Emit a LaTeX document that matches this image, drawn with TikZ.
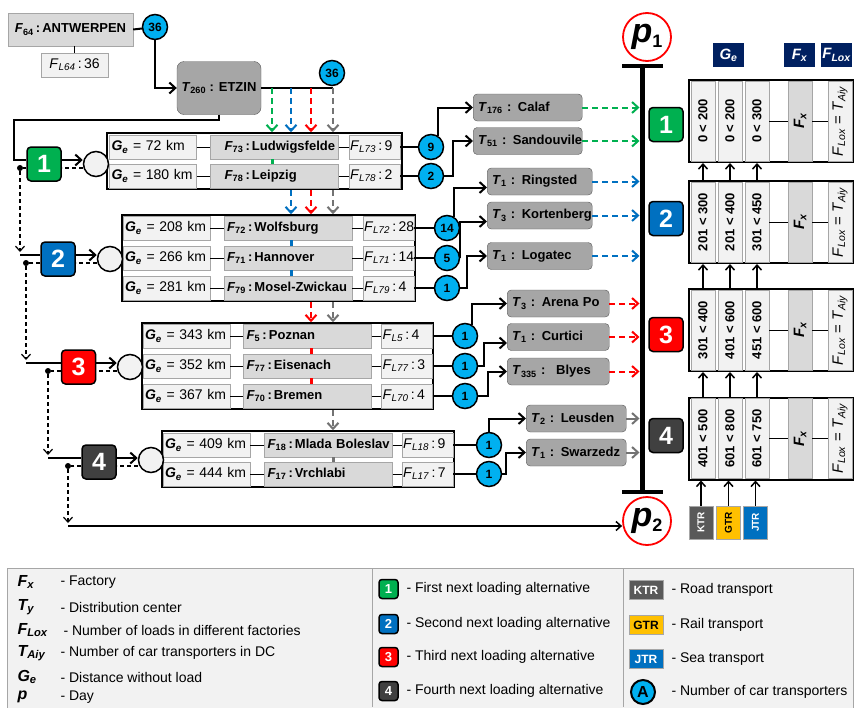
\documentclass[tikz,border=0pt]{standalone}
\usepackage{fontspec}
\setmainfont{Liberation Sans}
\usetikzlibrary{arrows.meta}
\definecolor{cellfill}{HTML}{F2F2F2}
\definecolor{namefill}{HTML}{D9D9D9}
\definecolor{cellline}{HTML}{A6A6A6}
\definecolor{dcfill}{HTML}{A6A6A6}
\definecolor{dcline}{HTML}{595959}
\definecolor{loadblue}{HTML}{00B0F0}
\definecolor{altgreen}{HTML}{00B050}
\definecolor{altblue}{HTML}{0070C0}
\definecolor{altred}{HTML}{FF0000}
\definecolor{altgray}{HTML}{404040}
\definecolor{dropgray}{HTML}{737373}
\definecolor{hdrnavy}{HTML}{002060}
\definecolor{roadgray}{HTML}{595959}
\definecolor{railyellow}{HTML}{FFC000}
\newcommand{\gedist}[1]{\mbox{\textbf{\textit{G}\textsubscript{\textit{e}}} = #1 km}}
\newcommand{\fname}[2]{\mbox{\textit{F}\textsubscript{#1}\,:\,#2}}
\newcommand{\fload}[2]{\mbox{\textit{F}\textsubscript{\textit{L#1}}\,:\,#2}}
\newcommand{\tname}[2]{\mbox{\textit{T}\textsubscript{#1} : #2}}
\begin{document}
\begin{tikzpicture}[x=1pt,y=-1pt,
  every node/.style={font=\fontsize{14}{16}\selectfont},
  gecell/.style={draw=cellline,fill=cellfill,text width=83pt,inner xsep=2pt,minimum height=24pt,align=left},
  namecell/.style={draw=cellline,fill=namefill,text width=122pt,inner xsep=3pt,minimum height=24pt,align=left,font=\fontsize{13}{15}\selectfont\bfseries},
  loadcell/.style={draw=cellline,fill=cellfill,text width=49pt,inner xsep=1pt,minimum height=24pt,align=left},
  grpbox/.style={draw,line width=1.5pt,inner sep=0pt},
  loadnum/.style={circle,draw,line width=1.5pt,fill=loadblue,minimum size=25pt,inner sep=0pt,font=\fontsize{12}{14}\selectfont\bfseries},
  hub/.style={circle,draw,line width=1.5pt,fill=cellfill,minimum size=25pt,inner sep=0pt},
  altsq/.style={draw,line width=1.5pt,rounded corners=4pt,minimum size=34pt,inner sep=0pt,text=white,font=\fontsize{25}{28}\selectfont\bfseries},
  dc/.style={draw=dcline,fill=dcfill,rounded corners=4pt,minimum height=27pt,font=\fontsize{13}{15}\selectfont\bfseries},
  dcbox/.style={dc,text width=#1,inner xsep=5pt,align=left},
  flowline/.style={line width=2pt},
  barb/.style={-{Straight Barb[length=6pt,width=11pt]}},
  thinbarb/.style={-{Straight Barb[length=5pt,width=9pt]}},
  dropline/.style={line width=2pt,dash pattern=on 6pt off 4pt,-{Straight Barb[length=6pt,width=11pt]}},
  retline/.style={line width=1.2pt,dash pattern=on 4pt off 3pt},
  joint/.style={circle,fill,minimum size=6pt,inner sep=0pt},
  pday/.style={circle,draw=altred,line width=1.8pt,fill=white,minimum size=48pt,inner sep=0pt},
  rbox/.style={draw,line width=2pt,minimum width=164pt,minimum height=82pt,inner sep=0pt},
  rcell/.style={draw=cellline,fill=cellfill,rotate=90,minimum width=80pt,minimum height=24pt,inner sep=0pt,font=\fontsize{13}{15}\selectfont\bfseries},
  fxcell/.style={rcell,fill=namefill,font=\fontsize{15}{17}\selectfont\bfseries\itshape},
  tacell/.style={rcell,font=\fontsize{15}{17}\selectfont},
  hdr/.style={fill=hdrnavy,text=white,minimum width=31pt,minimum height=24pt,inner sep=0pt,font=\fontsize{15}{17}\selectfont\bfseries\itshape},
  modebox/.style={draw=cellline,rotate=90,minimum width=33pt,minimum height=24pt,inner sep=0pt,font=\fontsize{10}{12}\selectfont\bfseries},
  legalt/.style={altsq,minimum size=19pt,rounded corners=3pt,font=\fontsize{13}{15}\selectfont\bfseries},
  legmode/.style={draw=cellline,minimum width=34pt,minimum height=19pt,inner sep=0pt,font=\fontsize{12}{14}\selectfont\bfseries},
  legsym/.style={anchor=west,font=\fontsize{16}{18}\selectfont\bfseries\itshape},
  legtext/.style={anchor=west}]
\useasboundingbox (0,0) rectangle (856,707);

\node[draw=cellline,fill=namefill,minimum width=125pt,minimum height=33pt,font=\fontsize{13}{15}\selectfont\bfseries] (f64) at (70.5,29.5) {\fname{64}{ANTWERPEN}};
\node[draw=cellline,fill=cellfill,minimum width=67pt,minimum height=24pt] (fl64) at (74.5,65) {\fload{64}{36}};
\draw (fl64.north) -- (fl64.north |- f64.south);
\node[loadnum] (n64) at (155,27) {36};
\node[dc,minimum width=84pt,minimum height=53pt,rounded corners=7pt] (etzin) at (219,88) {\tname{260}{ETZIN}};
\node[loadnum] (n260) at (332,73) {36};
\coordinate (xg) at (272,88);
\coordinate (xb) at (291,88);
\coordinate (xr) at (311,88);
\coordinate (xk) at (333,88);
\coordinate (bend) at (14,120);
\draw[flowline] (f64.east) -- (n64);
\draw[flowline,barb] (n64.south) |- (etzin.west);
\draw[flowline] (etzin.east) -- (xk);

\node[grpbox,minimum width=295pt,minimum height=56pt] (g1) at (254.5,161) {};
\node[gecell] (ge73) at (153,147) {\gedist{72}};
\node[namecell,text width=100pt,inner xsep=14pt] (f73) at (274.5,147) {\fname{73}{Ludwigsfelde}};
\node[loadcell] (fl73) at (374.5,147) {\fload{73}{9}};
\node[gecell] (ge78) at (153,176) {\gedist{180}};
\node[namecell,text width=100pt,inner xsep=14pt] (f78) at (274.5,176) {\fname{78}{Leipzig}};
\node[loadcell] (fl78) at (374.5,176) {\fload{78}{2}};

\node[grpbox,minimum width=293pt,minimum height=86pt] (g2) at (268.5,258) {};
\node[gecell] (ge72) at (166.5,228) {\gedist{208}};
\node[namecell] (f72) at (288,228) {\fname{72}{Wolfsburg}};
\node[loadcell] (fl72) at (388.5,228) {\fload{72}{28}};
\node[gecell] (ge71) at (166.5,258) {\gedist{266}};
\node[namecell] (f71) at (288,258) {\fname{71}{Hannover}};
\node[loadcell] (fl71) at (388.5,258) {\fload{71}{14}};
\node[gecell] (ge79) at (166.5,288) {\gedist{281}};
\node[namecell] (f79) at (288,288) {\fname{79}{Mosel-Zwickau}};
\node[loadcell] (fl79) at (388.5,288) {\fload{79}{4}};

\node[grpbox,minimum width=291pt,minimum height=86pt] (g3) at (287.5,366) {};
\node[gecell] (ge5) at (186.5,336) {\gedist{343}};
\node[namecell] (f5) at (307.5,336) {\fname{5}{Poznan}};
\node[loadcell] (fl5) at (407,336) {\fload{5}{4}};
\node[gecell] (ge77) at (186.5,366) {\gedist{352}};
\node[namecell] (f77) at (307.5,366) {\fname{77}{Eisenach}};
\node[loadcell] (fl77) at (407,366) {\fload{77}{3}};
\node[gecell] (ge70) at (186.5,396) {\gedist{367}};
\node[namecell] (f70) at (307.5,396) {\fname{70}{Bremen}};
\node[loadcell] (fl70) at (407,396) {\fload{70}{4}};

\node[grpbox,minimum width=292pt,minimum height=56pt] (g4) at (308,459) {};
\node[gecell] (ge18) at (206.5,445) {\gedist{409}};
\node[namecell] (f18) at (328.5,445) {\fname{18}{Mlada Boleslav}};
\node[loadcell] (fl18) at (427.5,445) {\fload{18}{9}};
\node[gecell] (ge17) at (206.5,474) {\gedist{444}};
\node[namecell] (f17) at (328.5,474) {\fname{17}{Vrchlabi}};
\node[loadcell] (fl17) at (427.5,474) {\fload{17}{7}};

\draw (ge73) -- (f73) (f73) -- (fl73) (ge78) -- (f78) (f78) -- (fl78);
\draw (ge72) -- (f72) (f72) -- (fl72) (ge71) -- (f71) (f71) -- (fl71) (ge79) -- (f79) (f79) -- (fl79);
\draw (ge5) -- (f5) (f5) -- (fl5) (ge77) -- (f77) (f77) -- (fl77) (ge70) -- (f70) (f70) -- (fl70);
\draw (ge18) -- (f18) (f18) -- (fl18) (ge17) -- (f17) (f17) -- (fl17);

\draw[dropline,altgreen] (xg) -- (xg |- g1.north);
\draw[dropline,altblue] (xb) -- (xb |- g1.north);
\draw[dropline,altred] (xr) -- (xr |- g1.north);
\draw[dropline,dropgray] (xk) -- (xk |- g1.north);
\draw[dropline,altblue] (xb |- g1.south) -- (xb |- g2.north);
\draw[dropline,altred] (xr |- g1.south) -- (xr |- g2.north);
\draw[dropline,dropgray] (xk |- g1.south) -- (xk |- g2.north);
\draw[dropline,altred] (xr |- g2.south) -- (xr |- g3.north);
\draw[dropline,dropgray] (xk |- g2.south) -- (xk |- g3.north);
\draw[dropline,dropgray] (xk |- g3.south) -- (xk |- g4.north);
\draw[line width=3pt,altgreen] (f73.south -| xg) -- (f78.north -| xg);
\draw[line width=3pt,altblue] (f72.south -| xb) -- (f71.north -| xb) (f71.south -| xb) -- (f79.north -| xb);
\draw[line width=3pt,altred] (f5.south -| xr) -- (f77.north -| xr) (f77.south -| xr) -- (f70.north -| xr);
\draw[line width=3pt,dropgray] (f18.south -| xk) -- (f17.north -| xk);

\node[altsq,fill=altgreen] (sq1) at (44,164) {1};
\node[altsq,fill=altblue] (sq2) at (58,259) {2};
\node[altsq,fill=altred] (sq3) at (78.5,367) {3};
\node[altsq,fill=altgray] (sq4) at (99,462) {4};
\node[hub] (hub1) at (96,164) {};
\node[hub] (hub2) at (110,259) {};
\node[hub] (hub3) at (130,367) {};
\node[hub] (hub4) at (151,460) {};
\node[joint] (d1) at (20,168) {};
\node[joint] (d2) at (26,263) {};
\node[joint] (d3) at (48,371) {};
\node[joint] (d4) at (68,466) {};
\coordinate (a2) at (20,255);
\coordinate (a3) at (26,363);
\coordinate (a4) at (48,458);
\coordinate (a5) at (68,526);

\draw[line width=1.5pt] (etzin.south) |- (bend) |- ([yshift=4pt]sq1.west);
\draw[flowline] (a2) -- ([yshift=4pt]sq2.west);
\draw[flowline] (a3) -- ([yshift=4pt]sq3.west);
\draw[flowline] (a4) -- ([yshift=4pt]sq4.west);
\draw[flowline,barb] ([yshift=4pt]sq1.east) -- ([yshift=4pt]sq1.east -| hub1.west);
\draw[flowline,barb] ([yshift=4pt]sq2.east) -- ([yshift=4pt]sq2.east -| hub2.west);
\draw[flowline,barb] ([yshift=4pt]sq3.east) -- ([yshift=4pt]sq3.east -| hub3.west);
\draw[flowline,barb] ([yshift=4pt]sq4.east) -- ([yshift=4pt]sq4.east -| hub4.west);
\draw[retline] (hub1.west |- d1) -- (sq1.east |- d1) (sq1.west |- d1) -- (d1);
\draw[retline] (hub2.west |- d2) -- (sq2.east |- d2) (sq2.west |- d2) -- (d2);
\draw[retline] (hub3.west |- d3) -- (sq3.east |- d3) (sq3.west |- d3) -- (d3);
\draw[retline] (hub4.west |- d4) -- (sq4.east |- d4) (sq4.west |- d4) -- (d4);
\draw[retline,thinbarb] (d1) -- ([yshift=3pt]a2);
\draw[retline,thinbarb] (d2) -- ([yshift=3pt]a3);
\draw[retline,thinbarb] (d3) -- ([yshift=3pt]a4);
\draw[retline,thinbarb] (d4) -- ([yshift=3pt]a5);

\node[loadnum] (n73) at (431,147) {9};
\node[loadnum] (n78) at (431,176) {2};
\node[loadnum] (n72) at (447,228) {14};
\node[loadnum] (n71) at (447,258) {5};
\node[loadnum] (n79) at (447,288) {1};
\node[loadnum] (n5) at (465,336) {1};
\node[loadnum] (n77) at (465,366) {1};
\node[loadnum] (n70) at (465,396) {1};
\node[loadnum] (n18) at (489,445) {1};
\node[loadnum] (n17) at (489,474) {1};
\draw[flowline] (fl73) -- (n73) (fl78) -- (n78);
\draw[flowline] (fl72) -- (n72) (fl71) -- (n71) (fl79) -- (n79);
\draw[flowline] (fl5) -- (n5) (fl77) -- (n77) (fl70) -- (n70);
\draw[flowline] (fl18) -- (n18) (fl17) -- (n17);

\node[dcbox=99pt,anchor=west] (calaf) at (473,107.5) {\tname{176}{Calaf}};
\node[dcbox=99pt,anchor=west] (sandouvile) at (473,141) {\tname{51}{Sandouvile}};
\node[dcbox=95pt,anchor=west] (ringsted) at (487,181.5) {\tname{1}{Ringsted}};
\node[dcbox=95pt,anchor=west] (kortenberg) at (487,215.5) {\tname{3}{Kortenberg}};
\node[dcbox=95pt,anchor=west] (logatec) at (487,256) {\tname{1}{Logatec}};
\node[dcbox=92pt,anchor=west] (arenapo) at (507,303.5) {\tname{3}{Arena Po}};
\node[dcbox=92pt,anchor=west] (curtici) at (507,337) {\tname{1}{Curtici}};
\node[dcbox=92pt,anchor=west] (blyes) at (507,371.5) {\tname{335}{\ Blyes}};
\node[dcbox=90pt,anchor=west] (leusden) at (526,418.5) {\tname{2}{Leusden}};
\node[dcbox=90pt,anchor=west] (swarzedz) at (526,452.5) {\tname{1}{Swarzedz}};
\draw[flowline,barb] (n73.60) |- (calaf.west);
\draw[flowline,barb] (n78.east) -- ++(9,0) |- (sandouvile.west);
\draw[flowline,barb] (n72.60) |- ([yshift=-6pt]ringsted.west);
\draw[flowline,barb] (n71.east) |- ([yshift=-6pt]kortenberg.west);
\draw[flowline,barb] (n79.east) -- ++(7,0) |- (logatec.west);
\draw[flowline,barb] (n5.60) |- (arenapo.west);
\draw[flowline,barb] (n77.east) -- ++(6,0) |- ([yshift=-6pt]curtici.west);
\draw[flowline,barb] (n70.east) -- ++(10,0) |- (blyes.west);
\draw[flowline,barb] (n18.north) |- (leusden.west);
\draw[flowline,barb] (n17.east) -- ++(4,0) |- (swarzedz.west);

\coordinate (ptop) at (642,66);
\coordinate (pbot) at (642,492);
\draw[line width=5pt] (ptop) -- (pbot);
\draw[line width=4pt] ([xshift=-20pt]ptop) -- ([xshift=21pt]ptop);
\draw[line width=4pt] ([xshift=-20pt]pbot) -- ([xshift=21pt]pbot);
\node[pday] (p1) at (647,37) {{\fontsize{34}{36}\selectfont\textbf{\textit{p}}}\raisebox{-5pt}{\fontsize{18}{18}\selectfont\textbf{1}}};
\node[pday] (p2) at (647,521) {{\fontsize{34}{36}\selectfont\textbf{\textit{p}}}\raisebox{-5pt}{\fontsize{18}{18}\selectfont\textbf{2}}};
\draw[line width=1.5pt,thinbarb] (a5) -- (a5 -| p2.west);

\draw[dropline,altgreen,shorten >=2.5pt] (calaf.east) -- (calaf.east -| ptop);
\draw[dropline,altgreen,shorten >=2.5pt] (sandouvile.east) -- (sandouvile.east -| ptop);
\draw[dropline,altblue,shorten >=2.5pt] (ringsted.east) -- (ringsted.east -| ptop);
\draw[dropline,altblue,shorten >=2.5pt] (kortenberg.east) -- (kortenberg.east -| ptop);
\draw[dropline,altblue,shorten >=2.5pt] (logatec.east) -- (logatec.east -| ptop);
\draw[dropline,altred,shorten >=2.5pt] (arenapo.east) -- (arenapo.east -| ptop);
\draw[dropline,altred,shorten >=2.5pt] (curtici.east) -- (curtici.east -| ptop);
\draw[dropline,altred,shorten >=2.5pt] (blyes.east) -- (blyes.east -| ptop);
\draw[dropline,dropgray,solid,shorten >=2.5pt] (leusden.east) -- (leusden.east -| ptop);
\draw[dropline,dropgray,solid,shorten >=2.5pt] (swarzedz.east) -- (swarzedz.east -| ptop);

\node[hdr] (hge) at (728.5,55) {G\textsubscript{e}};
\node[hdr] (hfx) at (799.5,55) {F\textsubscript{x}};
\node[hdr] (hfl) at (836.5,55) {F\textsubscript{Lox}};

\node[rbox] (r1) at (771,121) {};
\node[rcell] (r1a) at (703,121) {0 < 200};
\node[rcell] (r1b) at (730,121) {0 < 200};
\node[rcell] (r1c) at (757,121) {0 < 300};
\node[fxcell] (r1x) at (800,121) {F\textsubscript{x}};
\node[tacell] (r1l) at (840,121) {\textit{F}\textsubscript{\textit{Lox}} = \textit{T}\textsubscript{\textit{Aiy}}};
\draw (r1c.south) -- (r1x.north) (r1x.south) -- (r1l.north);

\node[rbox] (r2) at (771,222) {};
\node[rcell] (r2a) at (703,222) {201 < 300};
\node[rcell] (r2b) at (730,222) {201 < 400};
\node[rcell] (r2c) at (757,222) {301 < 450};
\node[fxcell] (r2x) at (800,222) {F\textsubscript{x}};
\node[tacell] (r2l) at (840,222) {\textit{F}\textsubscript{\textit{Lox}} = \textit{T}\textsubscript{\textit{Aiy}}};
\draw (r2c.south) -- (r2x.north) (r2x.south) -- (r2l.north);

\node[rbox] (r3) at (771,330) {};
\node[rcell] (r3a) at (703,330) {301 < 400};
\node[rcell] (r3b) at (730,330) {401 < 600};
\node[rcell] (r3c) at (757,330) {451 < 600};
\node[fxcell] (r3x) at (800,330) {F\textsubscript{x}};
\node[tacell] (r3l) at (840,330) {\textit{F}\textsubscript{\textit{Lox}} = \textit{T}\textsubscript{\textit{Aiy}}};
\draw (r3c.south) -- (r3x.north) (r3x.south) -- (r3l.north);

\node[rbox] (r4) at (771,438.5) {};
\node[rcell] (r4a) at (703,438.5) {401 < 500};
\node[rcell] (r4b) at (730,438.5) {601 < 800};
\node[rcell] (r4c) at (757,438.5) {601 < 750};
\node[fxcell] (r4x) at (800,438.5) {F\textsubscript{x}};
\node[tacell] (r4l) at (840,438.5) {\textit{F}\textsubscript{\textit{Lox}} = \textit{T}\textsubscript{\textit{Aiy}}};
\draw (r4c.south) -- (r4x.north) (r4x.south) -- (r4l.north);

\node[altsq,fill=altgreen] (s1) at (666,124.5) {1};
\node[altsq,fill=altblue] (s2) at (666,218.5) {2};
\node[altsq,fill=altred] (s3) at (666,334.5) {3};
\node[altsq,fill=altgray] (s4) at (666,435.5) {4};

\node[modebox,fill=roadgray,text=white] (ktr) at (701,522.5) {KTR};
\node[modebox,fill=railyellow] (gtr) at (728.5,522.5) {GTR};
\node[modebox,fill=altblue,text=white] (jtr) at (755.5,522.5) {JTR};
\draw[line width=1.5pt,thinbarb] (ktr.east) -- (ktr |- r4.south);
\draw[line width=1.5pt,thinbarb] (gtr.east) -- (gtr |- r4.south);
\draw[line width=1.5pt,thinbarb] (jtr.east) -- (jtr |- r4.south);
\draw[line width=1.5pt,thinbarb] (r4a |- r4.north) -- (r3a |- r3.south);
\draw[line width=1.5pt,thinbarb] (r4b |- r4.north) -- (r3b |- r3.south);
\draw[line width=1.5pt,thinbarb] (r4c |- r4.north) -- (r3c |- r3.south);
\draw[line width=1.5pt,thinbarb] (r3a |- r3.north) -- (r2a |- r2.south);
\draw[line width=1.5pt,thinbarb] (r3b |- r3.north) -- (r2b |- r2.south);
\draw[line width=1.5pt,thinbarb] (r3c |- r3.north) -- (r2c |- r2.south);
\draw[line width=1.5pt,thinbarb] (r2a |- r2.north) -- (r1a |- r1.south);
\draw[line width=1.5pt,thinbarb] (r2b |- r2.north) -- (r1b |- r1.south);
\draw[line width=1.5pt,thinbarb] (r2c |- r2.north) -- (r1c |- r1.south);

\node[draw=cellline,fill=cellfill,line width=1pt,minimum width=846pt,minimum height=142pt] (leg) at (430,639) {};
\draw[cellline,line width=1pt] (372,568) -- (372,707) (623,568) -- (623,707);
\node[legsym] (lfx) at (14,582) {F\textsubscript{x}};
\node[legtext] (lfxt) at (57,582) {- Factory};
\node[legsym] (lty) at (14,607) {T\textsubscript{y}};
\node[legtext] (ltyt) at (57,607) {- Distribution center};
\node[legsym] (lfl) at (14,630) {F\textsubscript{Lox}};
\node[legtext] (lflt) at (60,630) {- Number of loads in different factories};
\node[legsym] (lta) at (14,653) {T\textsubscript{Aiy}};
\node[legtext] (ltat) at (57,653) {- Number of car transporters in DC};
\node[legsym] (lge) at (14,677) {G\textsubscript{e}};
\node[legtext] (lget) at (57,677) {- Distance without load};
\node[legsym] (lp) at (14,697) {p};
\node[legtext] (lpt) at (57,697) {- Day};
\node[legalt,fill=altgreen] (l1) at (388.5,589) {1};
\node[legtext] (l1t) at (403,589) {- First next loading alternative};
\node[legalt,fill=altblue] (l2) at (388.5,624) {2};
\node[legtext] (l2t) at (403,624) {- Second next loading alternative};
\node[legalt,fill=altred] (l3) at (388.5,657) {3};
\node[legtext] (l3t) at (403,657) {- Third next loading alternative};
\node[legalt,fill=altgray] (l4) at (388.5,691) {4};
\node[legtext] (l4t) at (403,691) {- Fourth next loading alternative};
\node[legmode,fill=roadgray,text=white] (lk) at (646,590) {KTR};
\node[legtext] (lkt) at (668,590) {- Road transport};
\node[legmode,fill=railyellow] (lg) at (646,625) {GTR};
\node[legtext] (lgt) at (668,625) {- Rail transport};
\node[legmode,fill=altblue,text=white] (lj) at (646,659) {JTR};
\node[legtext] (ljt) at (668,659) {- Sea transport};
\node[loadnum,line width=2pt,minimum size=24pt,font=\fontsize{16}{18}\selectfont\bfseries] (la) at (643,692) {A};
\node[legtext] (lat) at (668,692) {- Number of car transporters};
\end{tikzpicture}
\end{document}
